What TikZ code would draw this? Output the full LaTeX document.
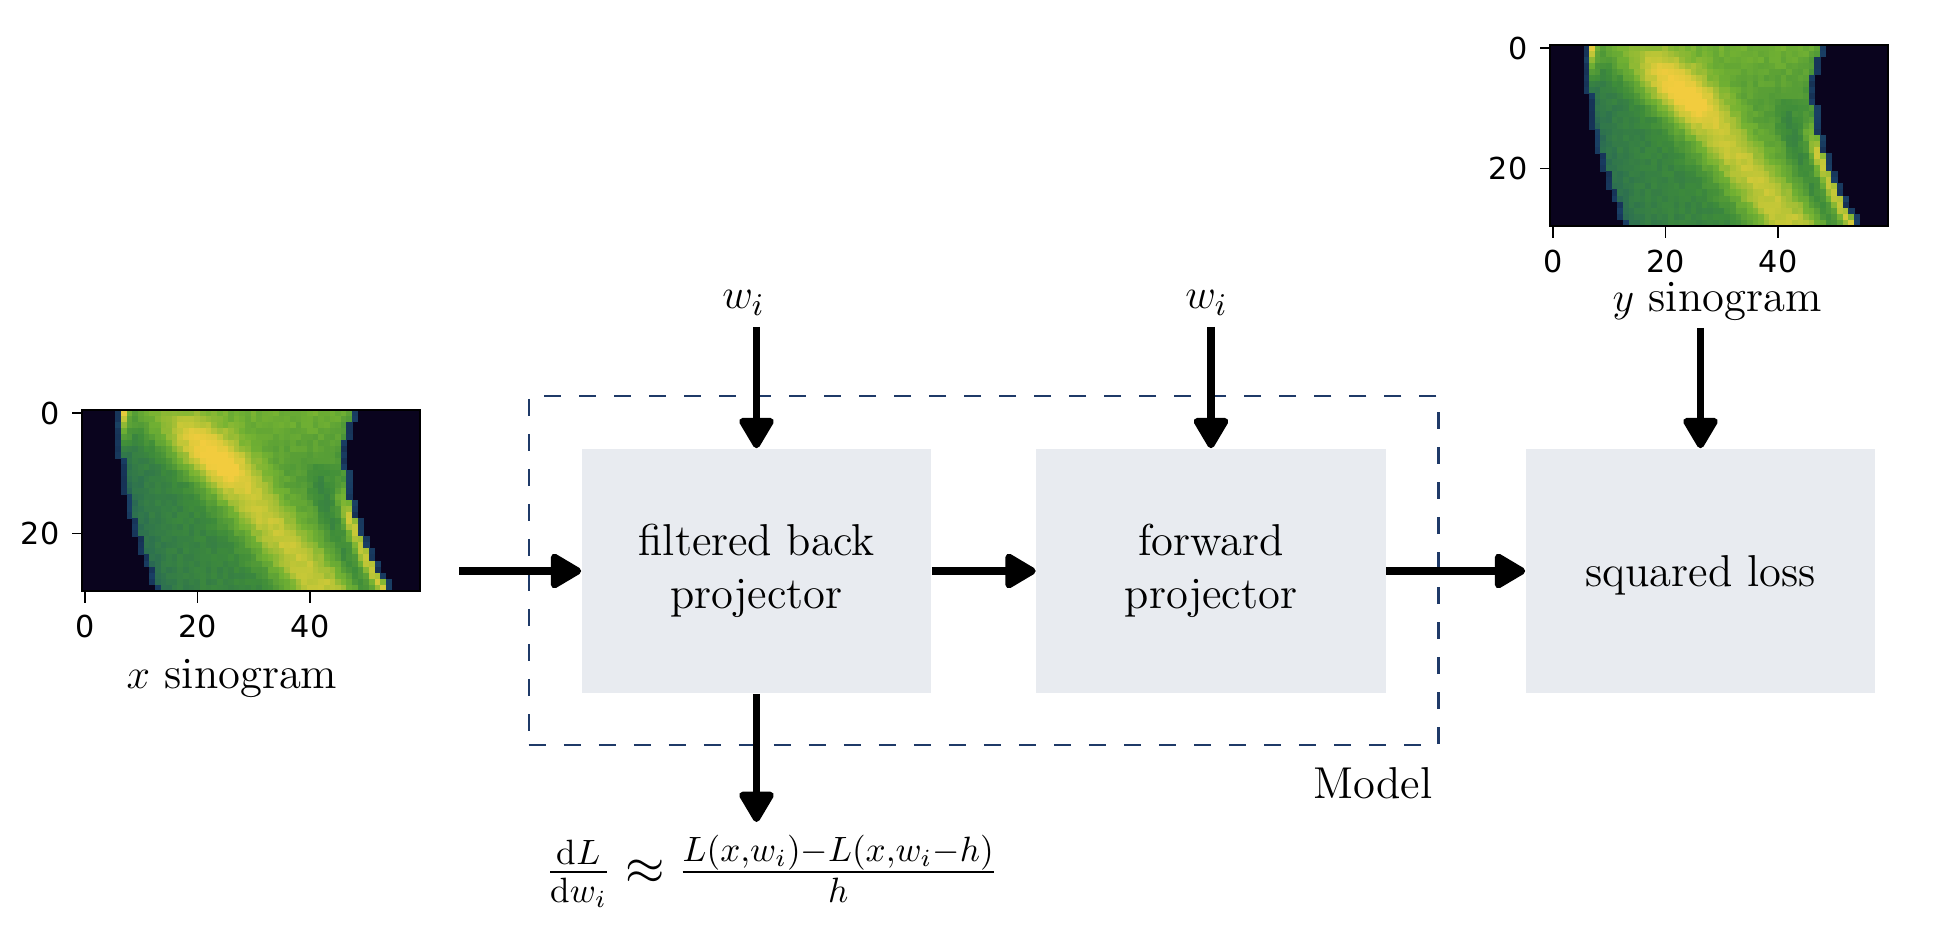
\documentclass[tikz,border=0pt]{standalone}
\usepackage{fontspec}
\newfontfamily\tickfont{DejaVu Sans}
\usetikzlibrary{arrows.meta}

\definecolor{boxfill}{RGB}{232,235,240}
\definecolor{modelblue}{RGB}{31,58,104}
\definecolor{cmA}{RGB}{10,4,30}
\definecolor{cmB}{RGB}{25,62,100}
\definecolor{cmC}{RGB}{45,112,80}
\definecolor{cmD}{RGB}{62,140,58}
\definecolor{cmE}{RGB}{115,178,50}
\definecolor{cmF}{RGB}{200,200,55}
\definecolor{cmG}{RGB}{242,204,62}

\def\cmapseg#1#2#3#4{%
  \pgfmathtruncatemacro\pp{100*(#2-\vv)/(#2-#1)}%
  \colorlet{cmc}{#3!\pp!#4}}
\newcommand\setcmap{%
  \ifdim\vv pt<0.22pt \cmapseg{0}{0.22}{cmA}{cmB}%
  \else\ifdim\vv pt<0.40pt \cmapseg{0.22}{0.40}{cmB}{cmC}%
  \else\ifdim\vv pt<0.55pt \cmapseg{0.40}{0.55}{cmC}{cmD}%
  \else\ifdim\vv pt<0.72pt \cmapseg{0.55}{0.72}{cmD}{cmE}%
  \else\ifdim\vv pt<0.88pt \cmapseg{0.72}{0.88}{cmE}{cmF}%
  \else \cmapseg{0.88}{1.0}{cmF}{cmG}%
  \fi\fi\fi\fi\fi}

\tikzset{
  pics/sino/.style={code={
    \fill[cmA] (0,0) rectangle (338,181);
    \foreach \r in {0,...,29}{
      \pgfmathsetmacro\Lb{7+0.0082*\r*\r}
      \pgfmathsetmacro\Rb{\r<8 ? 46.2+0.03*(8-\r)*(8-\r) : 46.2+0.012*(\r-8)*(\r-8)+0.13*(\r-8)}
      \pgfmathsetmacro\rr{\r+0.5}
      \pgfmathsetmacro\bamp{(0.32+0.16*exp(-((\rr-9)*(\rr-9))/14))*min(1,(\rr+2)/6)}
      \foreach \c in {0,...,59}{
        \pgfmathsetmacro\dl{\c+0.5-\Lb}
        \pgfmathsetmacro\dr{\Rb-\c-0.5}
        \pgfmathsetmacro\inside{(\dl>0)&&(\dr>0)}
        \pgfmathsetmacro\border{(\dl>-1)&&(\dr>-1)}
        \pgfmathsetmacro\nz{2*mod(abs(100*sin(\c*97.3+\r*233.1)),1)-1}
        \ifdim\inside pt>0.5pt
          \pgfmathsetmacro\dd{((\c+0.5-22)*21-(\rr-6)*18)/27.66}
          \pgfmathsetmacro\vv{max(0,min(1, 0.56 + 0.1*max(0,1-\rr/10)
             + \bamp*exp(-((\dd)*(\dd))/24.5)
             - 0.13*exp(-(\dl)/3.5)*min(1,\rr/6)
             + 0.35*exp(-((\dl-0.5)*(\dl-0.5))/0.8)*max(0,1-\rr/8)
             + 0.28*exp(-((\dr-1)*(\dr-1))/1.5)*min(1,max(0,(\rr-12)/6))
             - 0.1*exp(-((\dr-4.5)*(\dr-4.5))/4)*min(1,max(0,(\rr-8)/4))
             - 0.12*exp(-(\dr)/1.2)*max(0,1-\rr/12)
             + 0.05*max(-1,min(1,(\dd)/8))
             + 0.03*\nz ))}
          \setcmap
          \fill[cmc] (\c*5.633-0.3,\r*6.033-0.3) rectangle (\c*5.633+5.933,\r*6.033+6.333);
        \else\ifdim\border pt>0.5pt
          \pgfmathsetmacro\vv{0.2+0.03*\nz}
          \setcmap
          \fill[cmc] (\c*5.633-0.3,\r*6.033-0.3) rectangle (\c*5.633+5.933,\r*6.033+6.333);
        \fi\fi
      }
    }
    \draw[line width=0.45pt] (0,0) rectangle (338,181);
    \foreach \c/\t in {0/0,20/20,40/40}{
      \draw[line width=0.45pt] (\c*5.633+2.82,181) -- ++(0,12);
      \node[font=\tickfont\fontsize{8.6}{10}\selectfont, anchor=north, inner sep=0] at (\c*5.633+2.82,204) {\t};
    }
    \foreach \r/\t in {0/0,20/20}{
      \draw[line width=0.45pt] (0,\r*6.033+3.02) -- ++(-10,0);
      \node[font=\tickfont\fontsize{8.6}{10}\selectfont, anchor=east, inner sep=0] at (-22,\r*6.033+3.02) {\t};
    }
  }},
  block/.style={fill=boxfill, minimum width=3.49cm, minimum height=2.44cm, align=center, inner sep=0},
  modelbox/.style={draw=modelblue, line width=0.7pt, dash pattern=on 0.17cm off 0.18cm, minimum width=9.09cm, minimum height=3.49cm, inner sep=0},
  arr/.style={line width=2pt, -{Triangle[length=3.4mm,width=3.8mm,round]}},
  lbl/.style={inner sep=0}
}

\begin{document}
\begin{tikzpicture}[x=0.01cm,y=-0.01cm, every node/.style={font=\fontsize{12.7}{15.1}\selectfont}]
\useasboundingbox (0,0) rectangle (1948,946);

% sinogram plots
\pic at (82,410) {sino};
\pic at (1550,45) {sino};
\node[lbl, anchor=base] (xlab) at (232,688) {$x$ sinogram};
\node[lbl, anchor=base] (ylab) at (1717,312) {$y$ sinogram};

% model frame
\node[modelbox] (model) at (983.5,570.5) {};
\node[lbl, anchor=base east] (modellbl) at (1433,798) {Model};

% blocks
\node[block] (fbp) at (756.5,571) {filtered back\\projector};
\node[block] (fwd) at (1211,571) {forward\\projector};
\node[block, text depth=0pt] (loss) at (1700.5,571) {squared loss};

% inputs
\node[lbl, anchor=base] (w1) at (743.5,309) {$w_i$};
\node[lbl, anchor=base] (w2) at (1206.5,309) {$w_i$};
\coordinate (w1s) at (756.5,327);
\coordinate (w2s) at (1211,327);
\coordinate (ys) at (1700.5,328);
\coordinate (xin) at (459,571);
\coordinate (gout) at (756.5,822);

\draw[arr] (xin) -- (fbp.west);
\draw[arr] (fbp) -- (fwd);
\draw[arr] (fwd) -- (loss);
\draw[arr] (w1s) -- (fbp.north);
\draw[arr] (w2s) -- (fwd.north);
\draw[arr] (ys) -- (loss.north);
\draw[arr] (fbp.south) -- (gout);

\node[lbl, font=\fontsize{14.4}{17}\selectfont] (grad) at (772,871) {$\frac{\mathrm{d}L}{\mathrm{d}w_i} \approx \frac{L(x,w_i)-L(x,w_i-h)}{h}$};
\end{tikzpicture}
\end{document}
